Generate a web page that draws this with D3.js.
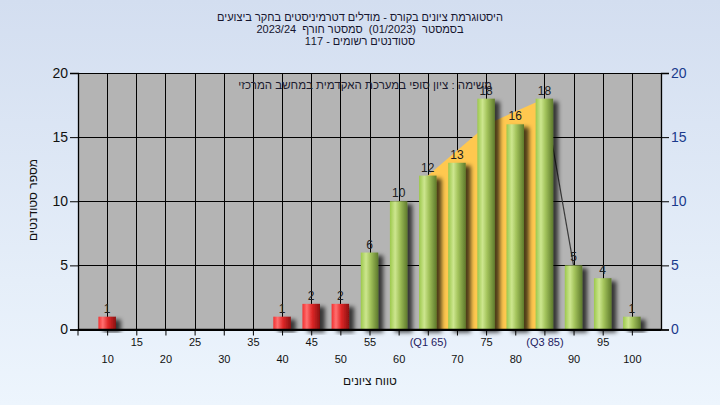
<!DOCTYPE html>
<html><head><meta charset="utf-8">
<script src="https://cdn.jsdelivr.net/npm/d3@7"></script>
<style>
html,body{margin:0;padding:0;width:720px;height:405px;overflow:hidden;}
svg{display:block;font-family:"Liberation Sans",Arial,"DejaVu Sans",sans-serif;}
</style></head>
<body>
<svg id="c" width="720" height="405"></svg>
<script>
const categories = [10,15,20,25,30,35,40,45,50,55,60,65,70,75,80,85,90,95,100];
const counts     = [1,0,0,0,0,0,1,2,2,6,10,12,13,18,16,18,5,4,1];
const tickLabels = ["10","15","20","25","30","35","40","45","50","55","60","(Q1 65)","70","75","80","(Q3 85)","90","95","100"];
const yTicks = [0,5,10,15,20];
const iqrArea = [[65,12],[73.5,15.3],[76.6,16.3],[83.5,17.7],[85,18]];
const tailLine = [[85,18],[90,5]];
const passMark = 55;
const titleLines = [
  "היסטוגרמת ציונים בקורס - מודלים דטרמיניסטים בחקר ביצועים",
  "בסמסטר  (01/2023)  סמסטר חורף  2023/24",
  "סטודנטים רשומים - 117"
];
const noteText = "משימה : ציון סופי במערכת האקדמית במחשב המרכזי";
const yTitle = "מספר סטודנטים";
const xTitle = "טווח ציונים";

const svg = d3.select("#c");
const L = 78, R = 661, T = 73, B = 329.5;
const x = d3.scaleLinear().domain([5,105]).range([L,R]);
const y = d3.scaleLinear().domain([0,20]).range([B,T]);
const bw = 17.5;

const defs = svg.append("defs");
const bg = defs.append("linearGradient").attr("id","bg").attr("x1",0).attr("y1",0).attr("x2",0).attr("y2",1);
bg.append("stop").attr("offset","0%").attr("stop-color","#d3def0");
bg.append("stop").attr("offset","100%").attr("stop-color","#edf5fd");
const gGreen = defs.append("linearGradient").attr("id","gGreen").attr("x1",0).attr("x2",1).attr("y1",0).attr("y2",0);
[["0%","#9cc84c"],["30%","#cde68f"],["55%","#a4c45c"],["100%","#5e7a2c"]].forEach(s=>gGreen.append("stop").attr("offset",s[0]).attr("stop-color",s[1]));
const gRed = defs.append("linearGradient").attr("id","gRed").attr("x1",0).attr("x2",1).attr("y1",0).attr("y2",0);
[["0%","#f23030"],["25%","#ff7070"],["55%","#e02828"],["100%","#8a1010"]].forEach(s=>gRed.append("stop").attr("offset",s[0]).attr("stop-color",s[1]));
const sh = defs.append("filter").attr("id","sh").attr("x","-20%").attr("y","-10%").attr("width","180%").attr("height","130%");
sh.append("feDropShadow").attr("dx",5).attr("dy",3).attr("stdDeviation",2.2).attr("flood-color","#000").attr("flood-opacity",0.7);

svg.append("rect").attr("width",720).attr("height",405).attr("fill","url(#bg)");

// titles
svg.append("g").selectAll("text").data(titleLines).join("text")
  .attr("x",360).attr("y",(d,i)=>21+i*12).attr("text-anchor","middle").attr("direction","rtl")
  .style("white-space","pre")
  .attr("font-size",11).attr("fill","#15152e").text(d=>d);

// plot background
svg.append("rect").attr("x",L).attr("y",T).attr("width",R-L).attr("height",B-T).attr("fill","#b4b4b4");

// gridlines
svg.append("g").selectAll("line").data(categories).join("line")
  .attr("x1",d=>Math.round(x(d))+0.5).attr("x2",d=>Math.round(x(d))+0.5).attr("y1",T).attr("y2",B)
  .attr("stroke","#000").attr("stroke-width",1);
svg.append("g").selectAll("line").data(yTicks).join("line")
  .attr("x1",L).attr("x2",R).attr("y1",d=>Math.round(y(d))+0.5).attr("y2",d=>Math.round(y(d))+0.5)
  .attr("stroke","#000").attr("stroke-width",1);

// IQR area
svg.append("path").datum(iqrArea)
  .attr("d", d3.area().x(d=>x(d[0])).y0(y(0)).y1(d=>y(d[1])))
  .attr("fill","#ffc84f");
svg.append("path").datum(tailLine)
  .attr("d", d3.line().x(d=>x(d[0])).y(d=>y(d[1])))
  .attr("fill","none").attr("stroke","#3a3a3a").attr("stroke-width",1.2);

// note
svg.append("text").attr("x",492).attr("y",89).attr("text-anchor","start").attr("direction","rtl")
  .attr("font-size",11.5).attr("fill","#1c1c30").text(noteText);

// bars
const data = categories.map((c,i)=>({c, v:counts[i]})).filter(d=>d.v>0);
svg.append("g").selectAll("rect").data(data).join("rect")
  .attr("x",d=>x(d.c)-bw/2).attr("width",bw)
  .attr("y",d=>y(d.v)).attr("height",d=>y(0)-y(d.v))
  .attr("fill",d=>d.c<passMark?"url(#gRed)":"url(#gGreen)")
  .attr("filter","url(#sh)");

// value labels
svg.append("g").selectAll("text").data(data).join("text")
  .attr("x",d=>x(d.c)).attr("y",d=>y(d.v)-4).attr("text-anchor","middle")
  .attr("font-size",12).attr("fill","#202020").text(d=>d.v);

// axes
const axL = svg.append("g").attr("transform",`translate(${L},0)`)
  .call(d3.axisLeft(y).tickValues(yTicks).tickSize(8).tickPadding(2));
axL.selectAll("text").attr("font-size",14).attr("fill","#111").attr("font-family","Liberation Sans,Arial,sans-serif");
const axR = svg.append("g").attr("transform",`translate(${R},0)`)
  .call(d3.axisRight(y).tickValues(yTicks).tickSize(8).tickPadding(2));
axR.selectAll("text").attr("font-size",14).attr("fill","#1a3a8c").attr("font-family","Liberation Sans,Arial,sans-serif");
const axB = svg.append("g").attr("transform",`translate(0,${B})`)
  .call(d3.axisBottom(x).tickValues(categories).tickSize(6).tickFormat((d,i)=>tickLabels[i]));
axB.selectAll("text").attr("font-size",11).attr("font-family","Liberation Sans,Arial,sans-serif")
  .attr("fill",(d,i)=>tickLabels[i].startsWith("(")?"#1e2060":"#111")
  .attr("y",(d,i)=>i%2===1?9:26);
[axL,axR,axB].forEach(a=>{a.selectAll(".domain").attr("stroke","#000").attr("stroke-width",1.3);a.selectAll(".tick line").attr("stroke","#000");});
axB.select(".domain").attr("d",`M${L},0H${R}`);
svg.append("line").attr("x1",L).attr("x2",L).attr("y1",B).attr("y2",B+6).attr("stroke","#000");

// axis titles
svg.append("text").attr("x",370).attr("y",385).attr("text-anchor","middle").attr("direction","rtl")
  .attr("font-size",12).attr("fill","#111").text(xTitle);
svg.append("text").attr("transform","translate(37,200) rotate(-90)").attr("text-anchor","middle").attr("direction","rtl")
  .attr("font-size",12).attr("fill","#111").text(yTitle);
</script>
</body></html>
